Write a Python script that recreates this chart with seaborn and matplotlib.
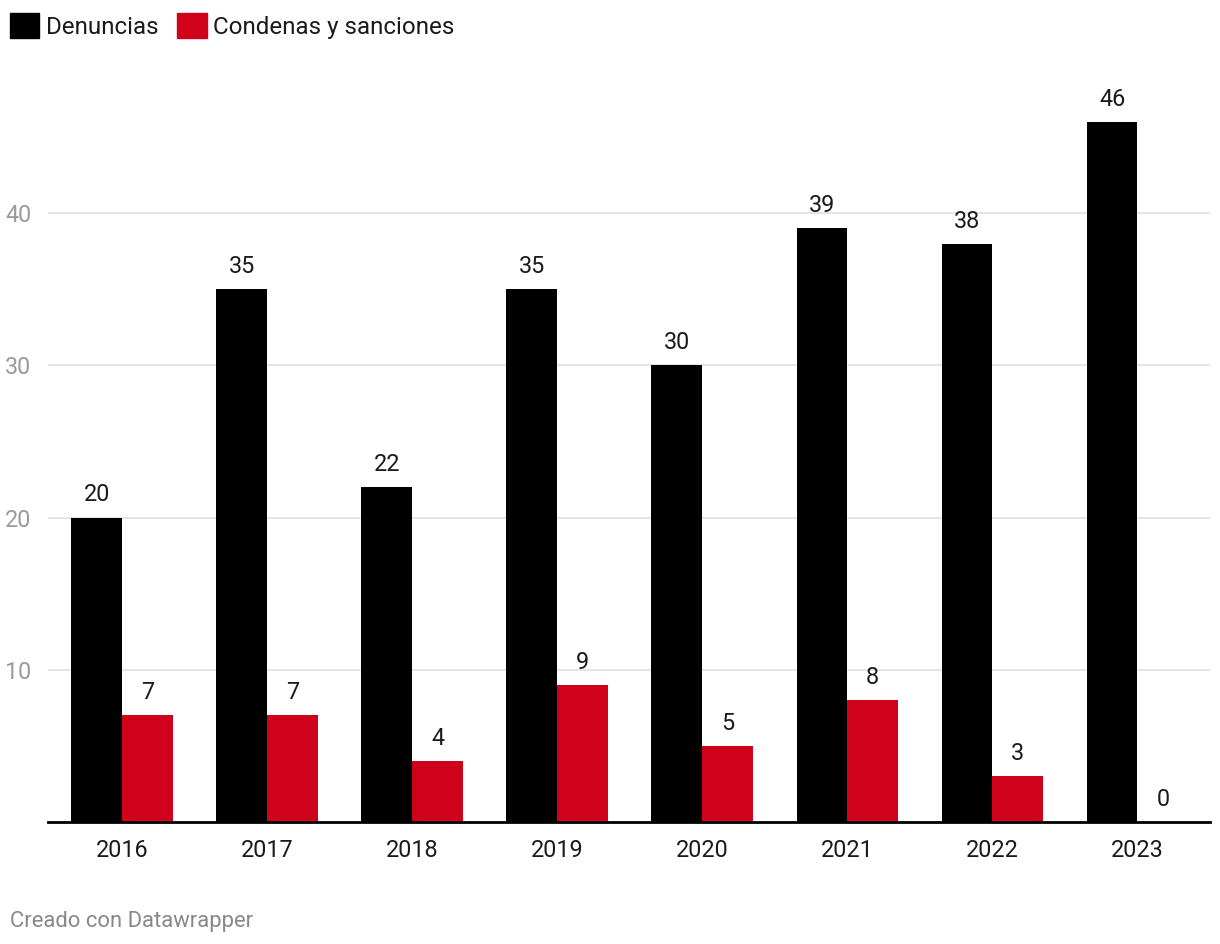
import matplotlib.pyplot as plt
import matplotlib.patches as mpatches
import seaborn as sns
import pandas as pd

years = ["2016", "2017", "2018", "2019", "2020", "2021", "2022", "2023"]
denuncias = [20, 35, 22, 35, 30, 39, 38, 46]
condenas = [7, 7, 4, 9, 5, 8, 3, 0]
series_names = ["Denuncias", "Condenas y sanciones"]
colors = ["#000000", "#d0021b"]

df = pd.DataFrame({
    "year": years * 2,
    "value": denuncias + condenas,
    "serie": [series_names[0]] * len(years) + [series_names[1]] * len(years),
})

sns.set_style("white")
plt.rcParams["font.family"] = ["Roboto", "DejaVu Sans"]

fig = plt.figure(figsize=(12.2, 9.44), dpi=100)
ax = fig.add_axes([48 / 1220, 1 - 822 / 944, (1210 - 48) / 1220, (822 - 61) / 944])

sns.barplot(data=df, x="year", y="value", hue="serie", palette=colors,
            width=0.7, saturation=1, linewidth=0, ax=ax, legend=False)

for cont in ax.containers:
    ax.bar_label(cont, padding=8, fontsize=16.8, color="#1a1a1a")

ax.set_ylim(0, 50)
ax.set_xlim(-0.51, 7.5)
ax.set_yticks([10, 20, 30, 40])
ax.yaxis.grid(True, color="#e3e3e3", linewidth=1.3)
ax.set_axisbelow(True)
for s in ["top", "right", "left"]:
    ax.spines[s].set_visible(False)
ax.spines["bottom"].set_color("black")
ax.spines["bottom"].set_linewidth(2)
ax.tick_params(axis="x", length=0, pad=12, labelsize=16.8, labelcolor="#1a1a1a")
ax.tick_params(axis="y", length=0, pad=12, labelsize=16.8, labelcolor="#9a9a9a")
ax.set_xlabel("")
ax.set_ylabel("")

handles = [mpatches.Patch(color=c, label=n) for c, n in zip(colors, series_names)]
fig.legend(handles=handles, loc="upper left", bbox_to_anchor=(10 / 1220, 1 - 13 / 944),
           ncol=2, frameon=False, fontsize=17.4, handlelength=1.22, handleheight=1.22,
           handletextpad=0.25, columnspacing=0.8, borderpad=0, borderaxespad=0,
           labelcolor="#1a1a1a")

fig.text(10 / 1220, 1 - 921 / 944, "Creado con Datawrapper", fontsize=15.8,
         color="#888888", va="center", ha="left")

fig.savefig("out.png", dpi=100)
